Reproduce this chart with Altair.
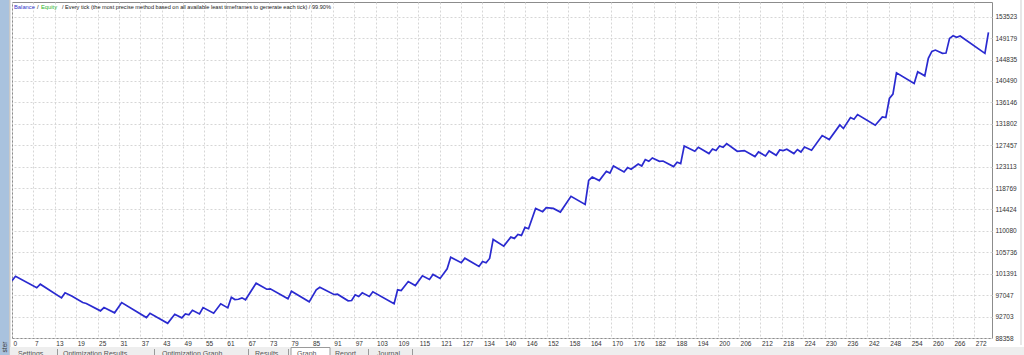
import altair as alt
import pandas as pd

# ---- data ----
trades = [
    0, 1, 7, 8, 14, 15, 17, 20, 21, 25,
    26, 29, 31, 38, 39, 44, 46, 48, 49, 50,
    51, 53, 54, 57, 59, 61, 62, 63, 64, 65,
    66, 69, 72, 73, 78, 79, 84, 86, 87, 91,
    92, 95, 96, 97, 98, 99, 101, 102, 108, 109,
    110, 112, 114, 116, 118, 119, 121, 123, 124, 127,
    128, 132, 133, 134, 135, 136, 139, 141, 142, 143,
    144, 145, 146, 148, 150, 151, 153, 155, 158, 162,
    163, 164, 166, 168, 169, 170, 173, 174, 175, 177,
    178, 179, 180, 181, 183, 184, 187, 188, 189, 190,
    193, 194, 197, 198, 199, 200, 201, 202, 205, 207,
    210, 211, 213, 214, 216, 217, 218, 219, 221, 222,
    223, 224, 226, 229, 231, 234, 235, 237, 238, 239,
    244, 246, 247, 248, 249, 250, 255, 256, 258, 259,
    260, 261, 263, 264, 265, 266, 267, 268, 275, 276,
]
balance = [
    100000, 100890, 98540, 99270, 96500, 97520, 96830, 95550, 95350, 93860,
    94530, 93460, 95550, 92500, 93380, 91340, 93170, 92440, 93250, 93050,
    93990, 93250, 94530, 93380, 95290, 94470, 96630, 96160, 96220, 96500,
    96100, 99470, 98250, 98330, 96300, 97850, 95690, 98130, 98660, 97180,
    97240, 95900, 95960, 97120, 96770, 97520, 96770, 97720, 95290, 98130,
    98000, 99820, 99000, 100980, 100220, 101240, 100430, 102400, 104760, 103620,
    104550, 102870, 103880, 103620, 104490, 108350, 106990, 108820, 108560, 109370,
    109170, 110790, 110530, 114650, 113980, 114790, 114650, 113900, 117090, 115460,
    120340, 121010, 120280, 122170, 121820, 123250, 122030, 122920, 122580, 123650,
    123250, 124550, 124200, 124870, 124200, 124260, 123120, 124000, 123730, 127310,
    126230, 127050, 125770, 126700, 126380, 127310, 127050, 127800, 126230, 126380,
    125160, 126090, 125280, 126290, 125420, 126500, 126380, 126640, 125770, 126580,
    126090, 127110, 126440, 129420, 128610, 131580, 130850, 133080, 132740, 133690,
    131520, 133200, 133080, 136940, 137820, 142140, 139990, 142350, 141530, 145070,
    146490, 146760, 146090, 146150, 149130, 149660, 149340, 149600, 146090, 150350,
]
assert len(trades) == len(balance)

x_labels = ["0", "7", "13", "19", "25", "31", "37", "43", "49", "55", "61", "67",
            "73", "79", "85", "91", "97", "103", "109", "115", "121", "127",
            "134", "140", "146", "152", "158", "164", "170", "176", "182", "188",
            "194", "200", "206", "212", "218", "224", "230", "236", "242", "248",
            "254", "260", "266", "272"]
y_ticks = [88358, 92703, 97047, 101391, 105736, 110080, 114424, 118769,
           123113, 127457, 131802, 136146, 140490, 144835, 149179, 153523]

tabs = ["Settings", "Optimization Results", "Optimization Graph", "Results",
        "Graph", "Report", "Journal"]

# ---- layout ----
W, H = 980, 336
PAD_L, PAD_T = 12, 2
FONT = "Liberation Sans"
step = 272 / 45
x_vals = [k * step for k in range(len(x_labels))]
label_expr = "[" + ",".join("'%s'" % s for s in x_labels) + "][round(datum.value/%r)]" % step

df = pd.DataFrame({"trade": trades, "balance": balance})

line = alt.Chart(df).mark_line(color="#2a2ad0", strokeWidth=1.7, clip=True).encode(
    x=alt.X("trade:Q",
            scale=alt.Scale(domain=[0, 277], nice=False, zero=False),
            axis=alt.Axis(values=x_vals, labelExpr=label_expr, grid=True,
                          gridColor="#d6d6d6", gridDash=[2, 2], gridWidth=1,
                          domain=False, ticks=False, labelAlign="left",
                          labelBaseline="top", labelPadding=2, labelOffset=1,
                          labelFontSize=6.5, labelFont=FONT, labelColor="#333333",
                          labelOverlap=False, labelFlush=False, labelBound=False,
                          title=None)),
    y=alt.Y("balance:Q",
            scale=alt.Scale(domain=[88358, 156510], nice=False, zero=False),
            axis=alt.Axis(orient="right", values=y_ticks, format="d", grid=True,
                          gridColor="#d6d6d6", gridDash=[2, 2], gridWidth=1,
                          domain=False, ticks=False, labelAlign="left",
                          labelBaseline="middle", labelPadding=3,
                          labelFontSize=6.5, labelFont=FONT, labelColor="#333333",
                          labelOverlap=False, labelFlush=False, labelBound=False,
                          title=None)),
)

one = alt.Data(values=[{"a": 1}])


def txt(s, ax, ay, color="#222222", size=6, align="left", baseline="middle", angle=0):
    return alt.Chart(one).mark_text(text=s, color=color, fontSize=size, font=FONT,
                                    align=align, baseline=baseline, angle=angle).encode(
        x=alt.value(ax - PAD_L), y=alt.value(ay - PAD_T))


def box(x1, y1, x2, y2, fill, stroke=None):
    kw = dict(fill=fill)
    if stroke:
        kw.update(stroke=stroke, strokeWidth=1)
    return alt.Chart(one).mark_rect(**kw).encode(
        x=alt.value(x1 - PAD_L), x2=alt.value(x2 - PAD_L),
        y=alt.value(y1 - PAD_T), y2=alt.value(y2 - PAD_T))


layers = [line]
# header text inside the plot
layers += [
    txt("Balance", 14, 7, color="#3434c8", size=5.8),
    txt("/", 37, 7, size=5.8),
    txt("Equity", 41, 7, color="#2cb42c", size=5.8),
    txt("/ Every tick (the most precise method based on all available least timeframes "
        "to generate each tick) / 99.90%", 62, 7, size=5.6),
]
# window chrome: left blue strip, right frame line, tab bar
layers += [
    box(0, 0, 9, 355, "#a9c2de"),
    box(9, 0, 10.5, 355, "#c8c8c8"),
    box(1020.5, 0, 1021.5, 345, "#d0d0d0"),
    box(10, 347, 1024, 355, "#eeeeee"),
    box(291, 347.5, 330, 356, "#ffffff", stroke="#9a9a9a"),
    txt("ster", 5, 347, color="#333333", size=6.5, align="center", angle=270),
]
tab_x = [18, 63, 162, 255, 297, 335, 377]
sep_x = [57, 154, 248, 288, 368, 412]
for name, tx in zip(tabs, tab_x):
    layers.append(txt(name, tx, 349.5, color="#555555", size=7, baseline="top"))
for sx in sep_x:
    layers.append(box(sx, 349, sx + 1, 355, "#9a9a9a"))

chart = alt.layer(*layers).properties(
    width=W, height=H,
    autosize=alt.AutoSizeParams(type="none"),
    padding={"left": PAD_L, "top": PAD_T, "right": 1024 - PAD_L - W, "bottom": 355 - PAD_T - H},
    background="#ffffff",
).configure_view(stroke="#8c8c8c", strokeWidth=1, fill="#ffffff")

chart.save("out.html", embed_options={"renderer": "svg", "actions": False})
